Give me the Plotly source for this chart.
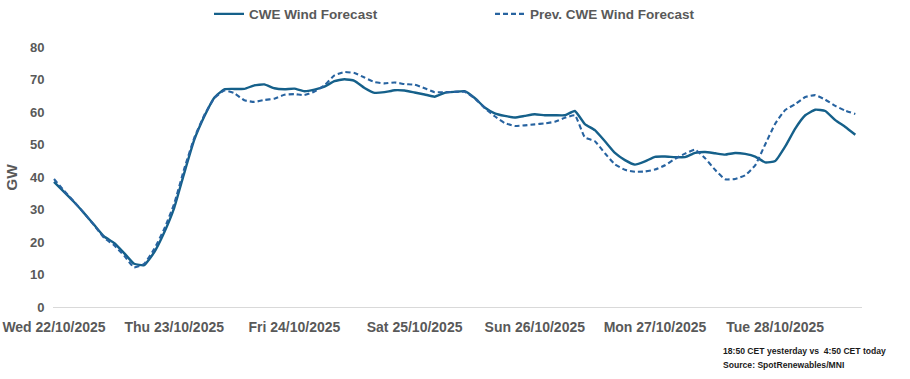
import pandas as pd
import plotly.graph_objects as go

# ---- data (2-hourly from Wed 22/10/2025 00:00) ----
start_time = "2025-10-22 00:00"
step = "2h"

cwe_forecast = [
    38.5, 35.4, 32.3, 28.9, 25.3, 21.7, 19.7, 16.6, 13.3, 12.9,
    16.8, 22.9, 30.5, 41.2, 51.4, 58.6, 64.4, 67.0, 67.1, 67.1,
    68.2, 68.5, 67.3, 67.0, 67.2, 66.4, 66.9, 67.8, 69.5, 70.1,
    69.6, 67.4, 65.9, 66.1, 66.7, 66.6, 66.0, 65.4, 64.7, 65.9,
    66.2, 66.4, 64.3, 61.4, 59.6, 58.8, 58.3, 58.8, 59.3, 59.0,
    59.0, 59.0, 60.3, 56.3, 54.4, 51.0, 47.4, 45.2, 43.8, 44.8,
    46.2, 46.3, 46.1, 46.1, 47.4, 47.7, 47.3, 46.9, 47.4, 47.1,
    46.3, 44.5, 44.9, 49.4, 54.9, 59.0, 60.7, 60.3, 57.5, 55.4,
    53.0,
]

prev_forecast = [
    39.4, 35.8, 32.4, 28.9, 25.2, 21.3, 19.0, 15.8, 12.2, 13.3,
    17.8, 24.0, 31.8, 42.5, 52.0, 59.0, 64.2, 66.6, 65.8, 63.6,
    63.1, 63.7, 64.1, 65.3, 65.5, 65.2, 66.3, 68.2, 71.3, 72.3,
    72.0, 70.6, 69.2, 68.8, 69.1, 68.6, 68.4, 67.3, 66.1, 66.1,
    66.2, 66.2, 64.2, 61.2, 58.7, 56.6, 55.7, 55.9, 56.2, 56.5,
    57.0, 58.2, 59.0, 52.2, 51.0, 47.3, 43.9, 42.2, 41.6, 41.7,
    42.3, 43.6, 45.6, 47.2, 48.4, 45.8, 42.2, 39.3, 39.4, 40.5,
    43.6, 50.0, 56.4, 60.6, 62.4, 64.6, 65.2, 63.8, 61.9, 60.4,
    59.4,
]

day_ticks = ["2025-10-22", "2025-10-23", "2025-10-24", "2025-10-25",
             "2025-10-26", "2025-10-27", "2025-10-28"]
day_labels = ["Wed 22/10/2025", "Thu 23/10/2025", "Fri 24/10/2025", "Sat 25/10/2025",
              "Sun 26/10/2025", "Mon 27/10/2025", "Tue 28/10/2025"]

series_names = ["CWE Wind Forecast", "Prev. CWE Wind Forecast"]
note_lines = ["18:50 CET yesterday vs  4:50 CET today", "Source: SpotRenewables/MNI"]

times = pd.date_range(start_time, periods=len(cwe_forecast), freq=step)

GREY = "#595959"
FONT = "Liberation Sans, Arial, sans-serif"

fig = go.Figure()
fig.add_trace(go.Scatter(
    x=times, y=cwe_forecast, mode="lines", name=series_names[0],
    line=dict(color="#15608A", width=2.4, shape="spline", smoothing=0.4),
    legend="legend",
))
fig.add_trace(go.Scatter(
    x=times, y=prev_forecast, mode="lines", name=series_names[1],
    line=dict(color="#2763A0", width=2.1, dash="5px,3px", shape="spline", smoothing=0.4),
    legend="legend2",
))

W, H = 910, 379
ml, mr, mt, mb = 53, 48, 47, 71.5
pw = W - ml - mr
ph = H - mt - mb

def px_to_paper_x(px):
    return (px - ml) / pw

def px_to_paper_y(py):
    return (H - mb - py) / ph

fig.update_layout(
    width=W, height=H,
    margin=dict(l=ml, r=mr, t=mt, b=mb, autoexpand=False),
    plot_bgcolor="white", paper_bgcolor="white",
    font=dict(family=FONT, color=GREY),
    showlegend=True,
    hovermode=False,
    legend=dict(
        orientation="h", x=px_to_paper_x(250 - 41), xanchor="left",
        y=px_to_paper_y(14), yanchor="middle",
        font=dict(size=13.5, color=GREY, family=FONT, weight="bold"),
        bgcolor="rgba(0,0,0,0)",
    ),
    legend2=dict(
        orientation="h", x=px_to_paper_x(531 - 41), xanchor="left",
        y=px_to_paper_y(14), yanchor="middle",
        font=dict(size=13.5, color=GREY, family=FONT, weight="bold"),
        bgcolor="rgba(0,0,0,0)",
    ),
    xaxis=dict(
        type="date",
        range=["2025-10-21 23:48", "2025-10-28 17:20"],
        tickvals=day_ticks, ticktext=day_labels,
        showgrid=False, zeroline=False,
        showline=True, linecolor="#d9d9d9", linewidth=1,
        ticks="outside", ticklen=7, tickcolor="rgba(0,0,0,0)",
        ticklabeloverflow="allow",
        tickfont=dict(size=14, color=GREY, family=FONT, weight="bold"),
    ),
    yaxis=dict(
        range=[0, 80], dtick=10, tick0=0,
        showgrid=False, zeroline=False, showline=False,
        ticks="outside", ticklen=5, tickcolor="rgba(0,0,0,0)",
        tickfont=dict(size=13, color=GREY, family=FONT, weight="bold"),
    ),
)

fig.add_annotation(
    text="GW", textangle=-90, showarrow=False,
    xref="paper", yref="paper", x=px_to_paper_x(12), y=px_to_paper_y(178),
    xanchor="center", yanchor="middle",
    font=dict(size=15.5, color=GREY, family=FONT, weight="bold"),
)

for i, line in enumerate(note_lines):
    fig.add_annotation(
        text=line, showarrow=False,
        xref="paper", yref="paper",
        x=px_to_paper_x(721), y=px_to_paper_y(352 + 14 * i),
        xanchor="left", yanchor="middle",
        font=dict(size=8.6, color="#1a1a1a", family=FONT, weight="bold"),
    )

# remove the browser's default 8px body margin so the figure fills the window
fig.write_html(
    "out.html",
    config={"displayModeBar": False, "staticPlot": True},
    post_script="document.body.style.margin='0';",
)
